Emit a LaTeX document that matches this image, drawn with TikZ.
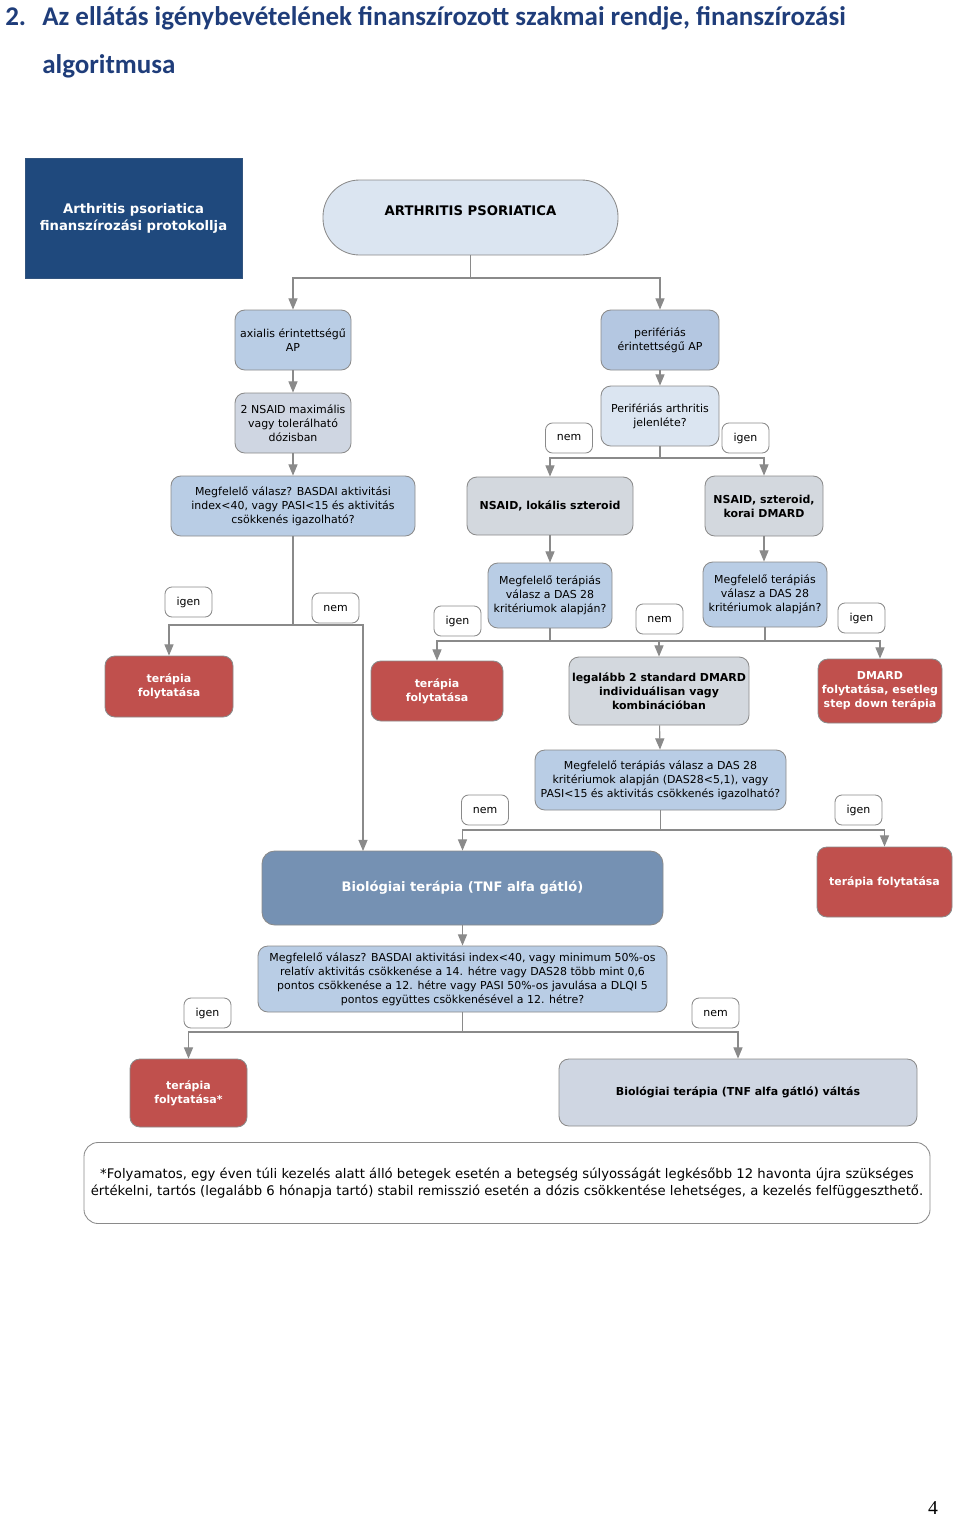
\documentclass[tikz,border=0pt]{standalone}
\usepackage{fontspec}
\setmainfont{DejaVu Sans}
\newfontfamily\titlefont{Carlito}
\newfontfamily\pagefont{Liberation Serif}
\usetikzlibrary{arrows.meta}

\definecolor{protblue}{HTML}{1F497D}
\definecolor{apblue}{HTML}{DBE5F1}
\definecolor{qblue}{HTML}{B9CDE5}
\definecolor{perblue}{HTML}{B4C7E1}
\definecolor{stepgray}{HTML}{D3D8DE}
\definecolor{lavgray}{HTML}{CFD6E2}
\definecolor{contred}{HTML}{C0504D}
\definecolor{bioblue}{HTML}{7591B3}
\definecolor{edgegray}{HTML}{8A8A8A}
\definecolor{titleblue}{HTML}{1F3D7A}

\tikzset{
  sz/.style 2 args={minimum width=#1*0.025cm, minimum height=#2*0.025cm},
  base/.style={draw=edgegray, line width=0.6pt, rounded corners=7pt, align=center,
    inner sep=1pt, font=\fontsize{7.8}{10}\selectfont},
  qbox/.style={base, fill=qblue},
  graybox/.style={base, fill=stepgray, font=\fontsize{7.8}{10}\selectfont\bfseries},
  redbox/.style={base, fill=contred, text=white, font=\fontsize{7.8}{10}\selectfont\bfseries},
  ans/.style={base, fill=white, rounded corners=5pt, sz={47}{30}},
  conn/.style={draw=edgegray, line width=0.8pt},
  arr/.style={conn, -{Triangle[width=6.5pt,length=8pt]}},
  ttl/.style={inner sep=0pt, text=titleblue, font=\titlefont\bfseries\fontsize{19.2}{22}\selectfont},
}

\begin{document}
\begin{tikzpicture}[x=0.025cm, y=-0.025cm]
\useasboundingbox (0,0) rectangle (960,1518);

% cim
\node[ttl, anchor=base west] (num) at (5,26) {2.};
\node[ttl, anchor=base west] (tline1) at (42,26) {Az ellátás igénybevételének finanszírozott szakmai rendje, finanszírozási};
\node[ttl, anchor=base west] (tline2) at (42,74) {algoritmusa};

% fejlec
\node[sz={217}{120}, fill=protblue, draw=protblue!80!gray, text=white, align=center, inner sep=0pt,
  font=\fontsize{9.4}{12}\selectfont\bfseries] (prot) at (133.5,218) {Arthritis psoriatica\\finanszírozási protokollja};
\node[base, sz={295}{75}, fill=apblue, rounded corners=26pt,
  font=\fontsize{9.4}{12}\selectfont\bfseries] (ap) at (470.5,217.5) {ARTHRITIS PSORIATICA\rule[-10pt]{0pt}{10pt}};

% elso szint
\node[qbox, sz={116}{60}] (axial) at (293,340) {axialis érintettségű\\AP};
\node[qbox, sz={118}{60}, fill=perblue] (perif) at (660,340) {perifériás\\érintettségű AP};
\node[base, sz={116}{60}, fill=lavgray] (nsaid2) at (293,423) {2 NSAID maximális\\vagy tolerálható\\dózisban};
\node[base, sz={118}{60}, fill=apblue] (perjel) at (660,416) {Perifériás arthritis\\jelenléte?};
\node[ans] (nem1) at (569,438) {nem};
\node[ans] (igen1) at (745.5,438) {igen};

\node[qbox, sz={244}{60}] (basdai1) at (293,506) {Megfelelő válasz? BASDAI aktivitási\\index<40, vagy PASI<15 és aktivitás\\csökkenés igazolható?};
\node[graybox, sz={166}{58}] (nsaidlok) at (550,506) {NSAID, lokális szteroid};
\node[graybox, sz={118}{60}] (nsaidkor) at (764,506) {NSAID, szteroid,\\korai DMARD};
\node[qbox, sz={124}{65}] (das1) at (550,595.5) {Megfelelő terápiás\\válasz a DAS 28\\kritériumok alapján?};
\node[qbox, sz={124}{65}] (das2) at (765,594.5) {Megfelelő terápiás\\válasz a DAS 28\\kritériumok alapján?};

\node[ans] (igen2) at (188.5,602) {igen};
\node[ans] (nem2) at (335.5,608) {nem};
\node[ans] (igen3) at (457.5,621) {igen};
\node[ans] (nem3) at (659.5,619) {nem};
\node[ans] (igen4) at (861.5,618) {igen};

\node[redbox, sz={128}{61}] (tf1) at (169,686.5) {terápia\\folytatása};
\node[redbox, sz={132}{60}] (tf2) at (437,691) {terápia\\folytatása};
\node[graybox, sz={180}{68}] (dmard2) at (659,691) {legalább 2 standard DMARD\\individuálisan vagy\\kombinációban};
\node[redbox, sz={124}{64}] (dmardf) at (880,691) {DMARD\\folytatása, esetleg\\step down terápia};

\node[qbox, sz={251}{60}] (das3) at (660.5,780) {Megfelelő terápiás válasz a DAS 28\\kritériumok alapján (DAS28<5,1), vagy\\PASI<15 és aktivitás csökkenés igazolható?};
\node[ans] (nem4) at (485,810) {nem};
\node[ans] (igen5) at (858.5,810) {igen};

\node[base, sz={401}{74}, fill=bioblue, text=white, rounded corners=9pt,
  font=\fontsize{9.3}{12}\selectfont\bfseries] (bio) at (462.5,888) {Biológiai terápia (TNF alfa gátló)};
\node[redbox, sz={135}{70}] (tf3) at (884.5,882) {terápia folytatása};

\node[qbox, sz={409}{66}] (basdai2) at (462.5,979) {Megfelelő válasz? BASDAI aktivitási index<40, vagy minimum 50\%-os\\relatív aktivitás csökkenése a 14. hétre vagy DAS28 több mint 0,6\\pontos csökkenése a 12. hétre vagy PASI 50\%-os javulása a DLQI 5\\pontos együttes csökkenésével a 12. hétre?};
\node[ans] (igen6) at (207.5,1013) {igen};
\node[ans] (nem5) at (715.5,1013) {nem};

\node[redbox, sz={117}{68}] (tf4) at (188.5,1093) {terápia\\folytatása*};
\node[base, sz={358}{67}, fill=lavgray, font=\fontsize{7.8}{10}\selectfont\bfseries] (valtas) at (738,1092.5) {Biológiai terápia (TNF alfa gátló) váltás};

\node[base, sz={846}{81}, fill=white, rounded corners=10pt,
  font=\fontsize{9.4}{11.6}\selectfont] (note) at (507,1183) {*Folyamatos, egy éven túli kezelés alatt álló betegek esetén a betegség súlyosságát legkésőbb 12 havonta újra szükséges\\értékelni, tartós (legalább 6 hónapja tartó) stabil remisszió esetén a dózis csökkentése lehetséges, a kezelés felfüggeszthető.};

\node[anchor=base, inner sep=0pt, font=\pagefont\fontsize{14}{16}\selectfont] (page) at (933,1514) {4};

% osszekotesek
\coordinate (j1) at (470.5,278);
\coordinate (j2) at (660,458);
\coordinate (j3) at (293,625);
\coordinate (j4) at (550,641);
\coordinate (j5) at (765,641);
\coordinate (j6) at (660.5,830);
\coordinate (j7) at (462.5,1032);
\coordinate (bioin) at (363,851);

\draw[conn] (ap.south) -- (j1);
\draw[arr] (j1) -| (axial.north);
\draw[arr] (j1) -| (perif.north);
\draw[arr] (axial) -- (nsaid2);
\draw[arr] (nsaid2) -- (basdai1);
\draw[arr] (perif) -- (perjel);
\draw[conn] (perjel.south) -- (j2);
\draw[arr] (j2) -| (nsaidlok.north);
\draw[arr] (j2) -| (nsaidkor.north);
\draw[arr] (nsaidlok) -- (das1);
\draw[arr] (nsaidkor.south) -- (das2.north -| nsaidkor.south);

\draw[conn] (basdai1.south) -- (j3);
\draw[arr] (j3) -| (tf1.north);
\draw[arr] (j3) -| (bioin);

\draw[conn] (das1.south) -- (j4);
\draw[arr] (j4) -| (tf2.north);
\draw[arr] (j4) -| (dmard2.north);
\draw[conn] (das2.south) -- (j5);
\draw[conn] (j5) -- (j4);
\draw[arr] (j5) -| (dmardf.north);

\draw[arr] (dmard2) -- (das3);
\draw[conn] (das3.south) -- (j6);
\draw[arr] (j6) -| (bio.north);
\draw[arr] (j6) -| (tf3.north);

\draw[arr] (bio) -- (basdai2);
\draw[conn] (basdai2.south) -- (j7);
\draw[arr] (j7) -| (tf4.north);
\draw[arr] (j7) -| (valtas.north);
\end{tikzpicture}
\end{document}
